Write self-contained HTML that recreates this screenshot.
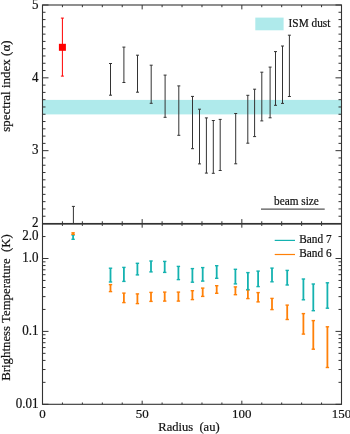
<!DOCTYPE html>
<html><head><meta charset="utf-8"><style>
html,body{margin:0;padding:0;background:#fff;overflow:hidden;}
svg{display:block;will-change:transform;}
text{font-family:"Liberation Serif",serif;fill:#111;stroke:#111;stroke-width:0.2px;}
</style></head><body>
<svg width="350" height="434" viewBox="0 0 350 434">
<rect x="42.50" y="99.90" width="299.00" height="14.50" fill="#afeaeb"/>
<rect x="255.30" y="17.60" width="28.30" height="12.70" fill="#afeaeb"/>
<line x1="110.50" y1="63.50" x2="110.50" y2="95.20" stroke="#333333" stroke-width="1.0" />
<line x1="109.00" y1="63.50" x2="112.00" y2="63.50" stroke="#333333" stroke-width="1.0" />
<line x1="109.00" y1="95.20" x2="112.00" y2="95.20" stroke="#333333" stroke-width="1.0" />
<line x1="123.90" y1="47.10" x2="123.90" y2="82.50" stroke="#333333" stroke-width="1.0" />
<line x1="122.40" y1="47.10" x2="125.40" y2="47.10" stroke="#333333" stroke-width="1.0" />
<line x1="122.40" y1="82.50" x2="125.40" y2="82.50" stroke="#333333" stroke-width="1.0" />
<line x1="137.50" y1="55.20" x2="137.50" y2="92.20" stroke="#333333" stroke-width="1.0" />
<line x1="136.00" y1="55.20" x2="139.00" y2="55.20" stroke="#333333" stroke-width="1.0" />
<line x1="136.00" y1="92.20" x2="139.00" y2="92.20" stroke="#333333" stroke-width="1.0" />
<line x1="151.20" y1="65.20" x2="151.20" y2="103.30" stroke="#333333" stroke-width="1.0" />
<line x1="149.70" y1="65.20" x2="152.70" y2="65.20" stroke="#333333" stroke-width="1.0" />
<line x1="149.70" y1="103.30" x2="152.70" y2="103.30" stroke="#333333" stroke-width="1.0" />
<line x1="165.10" y1="75.10" x2="165.10" y2="117.30" stroke="#333333" stroke-width="1.0" />
<line x1="163.60" y1="75.10" x2="166.60" y2="75.10" stroke="#333333" stroke-width="1.0" />
<line x1="163.60" y1="117.30" x2="166.60" y2="117.30" stroke="#333333" stroke-width="1.0" />
<line x1="178.80" y1="85.90" x2="178.80" y2="135.30" stroke="#333333" stroke-width="1.0" />
<line x1="177.30" y1="85.90" x2="180.30" y2="85.90" stroke="#333333" stroke-width="1.0" />
<line x1="177.30" y1="135.30" x2="180.30" y2="135.30" stroke="#333333" stroke-width="1.0" />
<line x1="192.50" y1="96.40" x2="192.50" y2="148.70" stroke="#333333" stroke-width="1.0" />
<line x1="191.00" y1="96.40" x2="194.00" y2="96.40" stroke="#333333" stroke-width="1.0" />
<line x1="191.00" y1="148.70" x2="194.00" y2="148.70" stroke="#333333" stroke-width="1.0" />
<line x1="199.50" y1="109.20" x2="199.50" y2="163.90" stroke="#333333" stroke-width="1.0" />
<line x1="198.00" y1="109.20" x2="201.00" y2="109.20" stroke="#333333" stroke-width="1.0" />
<line x1="198.00" y1="163.90" x2="201.00" y2="163.90" stroke="#333333" stroke-width="1.0" />
<line x1="206.40" y1="117.90" x2="206.40" y2="173.10" stroke="#333333" stroke-width="1.0" />
<line x1="204.90" y1="117.90" x2="207.90" y2="117.90" stroke="#333333" stroke-width="1.0" />
<line x1="204.90" y1="173.10" x2="207.90" y2="173.10" stroke="#333333" stroke-width="1.0" />
<line x1="213.30" y1="120.50" x2="213.30" y2="173.30" stroke="#333333" stroke-width="1.0" />
<line x1="211.80" y1="120.50" x2="214.80" y2="120.50" stroke="#333333" stroke-width="1.0" />
<line x1="211.80" y1="173.30" x2="214.80" y2="173.30" stroke="#333333" stroke-width="1.0" />
<line x1="220.20" y1="119.40" x2="220.20" y2="170.50" stroke="#333333" stroke-width="1.0" />
<line x1="218.70" y1="119.40" x2="221.70" y2="119.40" stroke="#333333" stroke-width="1.0" />
<line x1="218.70" y1="170.50" x2="221.70" y2="170.50" stroke="#333333" stroke-width="1.0" />
<line x1="235.70" y1="113.50" x2="235.70" y2="163.80" stroke="#333333" stroke-width="1.0" />
<line x1="234.20" y1="113.50" x2="237.20" y2="113.50" stroke="#333333" stroke-width="1.0" />
<line x1="234.20" y1="163.80" x2="237.20" y2="163.80" stroke="#333333" stroke-width="1.0" />
<line x1="247.80" y1="95.30" x2="247.80" y2="143.20" stroke="#333333" stroke-width="1.0" />
<line x1="246.30" y1="95.30" x2="249.30" y2="95.30" stroke="#333333" stroke-width="1.0" />
<line x1="246.30" y1="143.20" x2="249.30" y2="143.20" stroke="#333333" stroke-width="1.0" />
<line x1="254.60" y1="89.20" x2="254.60" y2="136.60" stroke="#333333" stroke-width="1.0" />
<line x1="253.10" y1="89.20" x2="256.10" y2="89.20" stroke="#333333" stroke-width="1.0" />
<line x1="253.10" y1="136.60" x2="256.10" y2="136.60" stroke="#333333" stroke-width="1.0" />
<line x1="261.80" y1="72.20" x2="261.80" y2="120.90" stroke="#333333" stroke-width="1.0" />
<line x1="260.30" y1="72.20" x2="263.30" y2="72.20" stroke="#333333" stroke-width="1.0" />
<line x1="260.30" y1="120.90" x2="263.30" y2="120.90" stroke="#333333" stroke-width="1.0" />
<line x1="270.10" y1="67.10" x2="270.10" y2="117.80" stroke="#333333" stroke-width="1.0" />
<line x1="268.60" y1="67.10" x2="271.60" y2="67.10" stroke="#333333" stroke-width="1.0" />
<line x1="268.60" y1="117.80" x2="271.60" y2="117.80" stroke="#333333" stroke-width="1.0" />
<line x1="275.50" y1="51.60" x2="275.50" y2="105.30" stroke="#333333" stroke-width="1.0" />
<line x1="274.00" y1="51.60" x2="277.00" y2="51.60" stroke="#333333" stroke-width="1.0" />
<line x1="274.00" y1="105.30" x2="277.00" y2="105.30" stroke="#333333" stroke-width="1.0" />
<line x1="282.50" y1="46.00" x2="282.50" y2="103.40" stroke="#333333" stroke-width="1.0" />
<line x1="281.00" y1="46.00" x2="284.00" y2="46.00" stroke="#333333" stroke-width="1.0" />
<line x1="281.00" y1="103.40" x2="284.00" y2="103.40" stroke="#333333" stroke-width="1.0" />
<line x1="289.40" y1="35.20" x2="289.40" y2="96.50" stroke="#333333" stroke-width="1.0" />
<line x1="287.90" y1="35.20" x2="290.90" y2="35.20" stroke="#333333" stroke-width="1.0" />
<line x1="287.90" y1="96.50" x2="290.90" y2="96.50" stroke="#333333" stroke-width="1.0" />
<line x1="73.40" y1="206.40" x2="73.40" y2="223.50" stroke="#333333" stroke-width="1.0" />
<line x1="71.90" y1="206.40" x2="74.90" y2="206.40" stroke="#333333" stroke-width="1.0" />
<line x1="62.40" y1="18.10" x2="62.40" y2="76.10" stroke="#ff0000" stroke-width="1.0" />
<line x1="60.90" y1="18.10" x2="63.90" y2="18.10" stroke="#ff0000" stroke-width="1.0" />
<line x1="60.90" y1="76.10" x2="63.90" y2="76.10" stroke="#ff0000" stroke-width="1.0" />
<rect x="58.90" y="43.80" width="7.00" height="7.00" fill="#ff0000"/>
<line x1="261.00" y1="209.10" x2="324.70" y2="209.10" stroke="#555" stroke-width="1.1" />
<text transform="translate(274.00,204.60) scale(1.0,1.18)" font-size="11.3" text-anchor="start" >beam size</text>
<text transform="translate(288.60,27.10) scale(1.0,1.18)" font-size="11.3" text-anchor="start" >ISM dust</text>
<line x1="110.50" y1="284.60" x2="110.50" y2="291.60" stroke="#ff8008" stroke-width="1.8" />
<line x1="108.80" y1="284.60" x2="112.20" y2="284.60" stroke="#ff8008" stroke-width="1.4" />
<line x1="108.80" y1="291.60" x2="112.20" y2="291.60" stroke="#ff8008" stroke-width="1.4" />
<line x1="110.50" y1="268.20" x2="110.50" y2="282.00" stroke="#14b2b0" stroke-width="1.8" />
<line x1="108.80" y1="268.20" x2="112.20" y2="268.20" stroke="#14b2b0" stroke-width="1.4" />
<line x1="108.80" y1="282.00" x2="112.20" y2="282.00" stroke="#14b2b0" stroke-width="1.4" />
<line x1="123.90" y1="293.10" x2="123.90" y2="302.60" stroke="#ff8008" stroke-width="1.8" />
<line x1="122.20" y1="293.10" x2="125.60" y2="293.10" stroke="#ff8008" stroke-width="1.4" />
<line x1="122.20" y1="302.60" x2="125.60" y2="302.60" stroke="#ff8008" stroke-width="1.4" />
<line x1="123.90" y1="267.40" x2="123.90" y2="281.40" stroke="#14b2b0" stroke-width="1.8" />
<line x1="122.20" y1="267.40" x2="125.60" y2="267.40" stroke="#14b2b0" stroke-width="1.4" />
<line x1="122.20" y1="281.40" x2="125.60" y2="281.40" stroke="#14b2b0" stroke-width="1.4" />
<line x1="137.40" y1="293.90" x2="137.40" y2="303.60" stroke="#ff8008" stroke-width="1.8" />
<line x1="135.70" y1="293.90" x2="139.10" y2="293.90" stroke="#ff8008" stroke-width="1.4" />
<line x1="135.70" y1="303.60" x2="139.10" y2="303.60" stroke="#ff8008" stroke-width="1.4" />
<line x1="137.40" y1="263.30" x2="137.40" y2="274.90" stroke="#14b2b0" stroke-width="1.8" />
<line x1="135.70" y1="263.30" x2="139.10" y2="263.30" stroke="#14b2b0" stroke-width="1.4" />
<line x1="135.70" y1="274.90" x2="139.10" y2="274.90" stroke="#14b2b0" stroke-width="1.4" />
<line x1="151.00" y1="292.40" x2="151.00" y2="301.40" stroke="#ff8008" stroke-width="1.8" />
<line x1="149.30" y1="292.40" x2="152.70" y2="292.40" stroke="#ff8008" stroke-width="1.4" />
<line x1="149.30" y1="301.40" x2="152.70" y2="301.40" stroke="#ff8008" stroke-width="1.4" />
<line x1="151.00" y1="261.00" x2="151.00" y2="271.90" stroke="#14b2b0" stroke-width="1.8" />
<line x1="149.30" y1="261.00" x2="152.70" y2="261.00" stroke="#14b2b0" stroke-width="1.4" />
<line x1="149.30" y1="271.90" x2="152.70" y2="271.90" stroke="#14b2b0" stroke-width="1.4" />
<line x1="164.70" y1="292.10" x2="164.70" y2="301.10" stroke="#ff8008" stroke-width="1.8" />
<line x1="163.00" y1="292.10" x2="166.40" y2="292.10" stroke="#ff8008" stroke-width="1.4" />
<line x1="163.00" y1="301.10" x2="166.40" y2="301.10" stroke="#ff8008" stroke-width="1.4" />
<line x1="164.70" y1="261.40" x2="164.70" y2="272.40" stroke="#14b2b0" stroke-width="1.8" />
<line x1="163.00" y1="261.40" x2="166.40" y2="261.40" stroke="#14b2b0" stroke-width="1.4" />
<line x1="163.00" y1="272.40" x2="166.40" y2="272.40" stroke="#14b2b0" stroke-width="1.4" />
<line x1="178.40" y1="292.10" x2="178.40" y2="301.10" stroke="#ff8008" stroke-width="1.8" />
<line x1="176.70" y1="292.10" x2="180.10" y2="292.10" stroke="#ff8008" stroke-width="1.4" />
<line x1="176.70" y1="301.10" x2="180.10" y2="301.10" stroke="#ff8008" stroke-width="1.4" />
<line x1="178.40" y1="266.40" x2="178.40" y2="279.60" stroke="#14b2b0" stroke-width="1.8" />
<line x1="176.70" y1="266.40" x2="180.10" y2="266.40" stroke="#14b2b0" stroke-width="1.4" />
<line x1="176.70" y1="279.60" x2="180.10" y2="279.60" stroke="#14b2b0" stroke-width="1.4" />
<line x1="192.40" y1="290.70" x2="192.40" y2="299.60" stroke="#ff8008" stroke-width="1.8" />
<line x1="190.70" y1="290.70" x2="194.10" y2="290.70" stroke="#ff8008" stroke-width="1.4" />
<line x1="190.70" y1="299.60" x2="194.10" y2="299.60" stroke="#ff8008" stroke-width="1.4" />
<line x1="192.40" y1="268.60" x2="192.40" y2="282.20" stroke="#14b2b0" stroke-width="1.8" />
<line x1="190.70" y1="268.60" x2="194.10" y2="268.60" stroke="#14b2b0" stroke-width="1.4" />
<line x1="190.70" y1="282.20" x2="194.10" y2="282.20" stroke="#14b2b0" stroke-width="1.4" />
<line x1="202.70" y1="288.10" x2="202.70" y2="296.40" stroke="#ff8008" stroke-width="1.8" />
<line x1="201.00" y1="288.10" x2="204.40" y2="288.10" stroke="#ff8008" stroke-width="1.4" />
<line x1="201.00" y1="296.40" x2="204.40" y2="296.40" stroke="#ff8008" stroke-width="1.4" />
<line x1="202.70" y1="267.60" x2="202.70" y2="281.10" stroke="#14b2b0" stroke-width="1.8" />
<line x1="201.00" y1="267.60" x2="204.40" y2="267.60" stroke="#14b2b0" stroke-width="1.4" />
<line x1="201.00" y1="281.10" x2="204.40" y2="281.10" stroke="#14b2b0" stroke-width="1.4" />
<line x1="216.70" y1="285.70" x2="216.70" y2="293.30" stroke="#ff8008" stroke-width="1.8" />
<line x1="215.00" y1="285.70" x2="218.40" y2="285.70" stroke="#ff8008" stroke-width="1.4" />
<line x1="215.00" y1="293.30" x2="218.40" y2="293.30" stroke="#ff8008" stroke-width="1.4" />
<line x1="216.70" y1="265.70" x2="216.70" y2="278.30" stroke="#14b2b0" stroke-width="1.8" />
<line x1="215.00" y1="265.70" x2="218.40" y2="265.70" stroke="#14b2b0" stroke-width="1.4" />
<line x1="215.00" y1="278.30" x2="218.40" y2="278.30" stroke="#14b2b0" stroke-width="1.4" />
<line x1="235.40" y1="286.90" x2="235.40" y2="294.70" stroke="#ff8008" stroke-width="1.8" />
<line x1="233.70" y1="286.90" x2="237.10" y2="286.90" stroke="#ff8008" stroke-width="1.4" />
<line x1="233.70" y1="294.70" x2="237.10" y2="294.70" stroke="#ff8008" stroke-width="1.4" />
<line x1="235.40" y1="269.30" x2="235.40" y2="283.90" stroke="#14b2b0" stroke-width="1.8" />
<line x1="233.70" y1="269.30" x2="237.10" y2="269.30" stroke="#14b2b0" stroke-width="1.4" />
<line x1="233.70" y1="283.90" x2="237.10" y2="283.90" stroke="#14b2b0" stroke-width="1.4" />
<line x1="247.90" y1="290.00" x2="247.90" y2="298.60" stroke="#ff8008" stroke-width="1.8" />
<line x1="246.20" y1="290.00" x2="249.60" y2="290.00" stroke="#ff8008" stroke-width="1.4" />
<line x1="246.20" y1="298.60" x2="249.60" y2="298.60" stroke="#ff8008" stroke-width="1.4" />
<line x1="247.90" y1="272.60" x2="247.90" y2="289.60" stroke="#14b2b0" stroke-width="1.8" />
<line x1="246.20" y1="272.60" x2="249.60" y2="272.60" stroke="#14b2b0" stroke-width="1.4" />
<line x1="246.20" y1="289.60" x2="249.60" y2="289.60" stroke="#14b2b0" stroke-width="1.4" />
<line x1="258.10" y1="292.60" x2="258.10" y2="301.90" stroke="#ff8008" stroke-width="1.8" />
<line x1="256.40" y1="292.60" x2="259.80" y2="292.60" stroke="#ff8008" stroke-width="1.4" />
<line x1="256.40" y1="301.90" x2="259.80" y2="301.90" stroke="#ff8008" stroke-width="1.4" />
<line x1="258.10" y1="271.10" x2="258.10" y2="286.60" stroke="#14b2b0" stroke-width="1.8" />
<line x1="256.40" y1="271.10" x2="259.80" y2="271.10" stroke="#14b2b0" stroke-width="1.4" />
<line x1="256.40" y1="286.60" x2="259.80" y2="286.60" stroke="#14b2b0" stroke-width="1.4" />
<line x1="272.00" y1="298.40" x2="272.00" y2="309.60" stroke="#ff8008" stroke-width="1.8" />
<line x1="270.30" y1="298.40" x2="273.70" y2="298.40" stroke="#ff8008" stroke-width="1.4" />
<line x1="270.30" y1="309.60" x2="273.70" y2="309.60" stroke="#ff8008" stroke-width="1.4" />
<line x1="272.00" y1="268.10" x2="272.00" y2="281.80" stroke="#14b2b0" stroke-width="1.8" />
<line x1="270.30" y1="268.10" x2="273.70" y2="268.10" stroke="#14b2b0" stroke-width="1.4" />
<line x1="270.30" y1="281.80" x2="273.70" y2="281.80" stroke="#14b2b0" stroke-width="1.4" />
<line x1="287.20" y1="305.10" x2="287.20" y2="319.50" stroke="#ff8008" stroke-width="1.8" />
<line x1="285.50" y1="305.10" x2="288.90" y2="305.10" stroke="#ff8008" stroke-width="1.4" />
<line x1="285.50" y1="319.50" x2="288.90" y2="319.50" stroke="#ff8008" stroke-width="1.4" />
<line x1="287.20" y1="270.40" x2="287.20" y2="285.00" stroke="#14b2b0" stroke-width="1.8" />
<line x1="285.50" y1="270.40" x2="288.90" y2="270.40" stroke="#14b2b0" stroke-width="1.4" />
<line x1="285.50" y1="285.00" x2="288.90" y2="285.00" stroke="#14b2b0" stroke-width="1.4" />
<line x1="303.40" y1="313.60" x2="303.40" y2="334.10" stroke="#ff8008" stroke-width="1.8" />
<line x1="301.70" y1="313.60" x2="305.10" y2="313.60" stroke="#ff8008" stroke-width="1.4" />
<line x1="301.70" y1="334.10" x2="305.10" y2="334.10" stroke="#ff8008" stroke-width="1.4" />
<line x1="303.40" y1="279.00" x2="303.40" y2="299.80" stroke="#14b2b0" stroke-width="1.8" />
<line x1="301.70" y1="279.00" x2="305.10" y2="279.00" stroke="#14b2b0" stroke-width="1.4" />
<line x1="301.70" y1="299.80" x2="305.10" y2="299.80" stroke="#14b2b0" stroke-width="1.4" />
<line x1="313.30" y1="320.60" x2="313.30" y2="349.20" stroke="#ff8008" stroke-width="1.8" />
<line x1="311.60" y1="320.60" x2="315.00" y2="320.60" stroke="#ff8008" stroke-width="1.4" />
<line x1="311.60" y1="349.20" x2="315.00" y2="349.20" stroke="#ff8008" stroke-width="1.4" />
<line x1="313.30" y1="284.00" x2="313.30" y2="310.70" stroke="#14b2b0" stroke-width="1.8" />
<line x1="311.60" y1="284.00" x2="315.00" y2="284.00" stroke="#14b2b0" stroke-width="1.4" />
<line x1="311.60" y1="310.70" x2="315.00" y2="310.70" stroke="#14b2b0" stroke-width="1.4" />
<line x1="327.40" y1="326.80" x2="327.40" y2="367.50" stroke="#ff8008" stroke-width="1.8" />
<line x1="325.70" y1="326.80" x2="329.10" y2="326.80" stroke="#ff8008" stroke-width="1.4" />
<line x1="325.70" y1="367.50" x2="329.10" y2="367.50" stroke="#ff8008" stroke-width="1.4" />
<line x1="327.40" y1="282.80" x2="327.40" y2="308.20" stroke="#14b2b0" stroke-width="1.8" />
<line x1="325.70" y1="282.80" x2="329.10" y2="282.80" stroke="#14b2b0" stroke-width="1.4" />
<line x1="325.70" y1="308.20" x2="329.10" y2="308.20" stroke="#14b2b0" stroke-width="1.4" />
<line x1="73.10" y1="235.00" x2="73.10" y2="239.30" stroke="#14b2b0" stroke-width="1.8" />
<line x1="71.40" y1="235.00" x2="74.80" y2="235.00" stroke="#14b2b0" stroke-width="1.4" />
<line x1="71.40" y1="239.30" x2="74.80" y2="239.30" stroke="#14b2b0" stroke-width="1.4" />
<line x1="73.10" y1="232.80" x2="73.10" y2="234.30" stroke="#ff8008" stroke-width="1.8" />
<line x1="71.40" y1="232.80" x2="74.80" y2="232.80" stroke="#ff8008" stroke-width="1.4" />
<line x1="71.40" y1="234.30" x2="74.80" y2="234.30" stroke="#ff8008" stroke-width="1.4" />
<line x1="274.70" y1="240.40" x2="295.00" y2="240.40" stroke="#14b2b0" stroke-width="1.2" />
<line x1="274.70" y1="254.50" x2="295.00" y2="254.50" stroke="#ff8008" stroke-width="1.2" />
<text transform="translate(299.30,242.50) scale(1.0,1.18)" font-size="11.3" text-anchor="start" >Band 7</text>
<text transform="translate(299.30,257.10) scale(1.0,1.18)" font-size="11.3" text-anchor="start" >Band 6</text>
<rect x="42.5" y="5.0" width="299.0" height="218.5" fill="none" stroke="#333333" stroke-width="1.1"/>
<rect x="42.5" y="224.1" width="299.0" height="180.20000000000002" fill="none" stroke="#333333" stroke-width="1.1"/>
<line x1="42.50" y1="5.00" x2="42.50" y2="9.40" stroke="#333333" stroke-width="1.0" />
<line x1="42.50" y1="223.50" x2="42.50" y2="219.10" stroke="#333333" stroke-width="1.0" />
<line x1="42.50" y1="224.10" x2="42.50" y2="227.70" stroke="#333333" stroke-width="1.0" />
<line x1="42.50" y1="404.30" x2="42.50" y2="400.70" stroke="#333333" stroke-width="1.0" />
<line x1="62.43" y1="5.00" x2="62.43" y2="7.20" stroke="#333333" stroke-width="1.0" />
<line x1="62.43" y1="223.50" x2="62.43" y2="221.30" stroke="#333333" stroke-width="1.0" />
<line x1="62.43" y1="224.10" x2="62.43" y2="225.90" stroke="#333333" stroke-width="1.0" />
<line x1="62.43" y1="404.30" x2="62.43" y2="402.50" stroke="#333333" stroke-width="1.0" />
<line x1="82.37" y1="5.00" x2="82.37" y2="7.20" stroke="#333333" stroke-width="1.0" />
<line x1="82.37" y1="223.50" x2="82.37" y2="221.30" stroke="#333333" stroke-width="1.0" />
<line x1="82.37" y1="224.10" x2="82.37" y2="225.90" stroke="#333333" stroke-width="1.0" />
<line x1="82.37" y1="404.30" x2="82.37" y2="402.50" stroke="#333333" stroke-width="1.0" />
<line x1="102.30" y1="5.00" x2="102.30" y2="7.20" stroke="#333333" stroke-width="1.0" />
<line x1="102.30" y1="223.50" x2="102.30" y2="221.30" stroke="#333333" stroke-width="1.0" />
<line x1="102.30" y1="224.10" x2="102.30" y2="225.90" stroke="#333333" stroke-width="1.0" />
<line x1="102.30" y1="404.30" x2="102.30" y2="402.50" stroke="#333333" stroke-width="1.0" />
<line x1="122.23" y1="5.00" x2="122.23" y2="7.20" stroke="#333333" stroke-width="1.0" />
<line x1="122.23" y1="223.50" x2="122.23" y2="221.30" stroke="#333333" stroke-width="1.0" />
<line x1="122.23" y1="224.10" x2="122.23" y2="225.90" stroke="#333333" stroke-width="1.0" />
<line x1="122.23" y1="404.30" x2="122.23" y2="402.50" stroke="#333333" stroke-width="1.0" />
<line x1="142.17" y1="5.00" x2="142.17" y2="9.40" stroke="#333333" stroke-width="1.0" />
<line x1="142.17" y1="223.50" x2="142.17" y2="219.10" stroke="#333333" stroke-width="1.0" />
<line x1="142.17" y1="224.10" x2="142.17" y2="227.70" stroke="#333333" stroke-width="1.0" />
<line x1="142.17" y1="404.30" x2="142.17" y2="400.70" stroke="#333333" stroke-width="1.0" />
<line x1="162.10" y1="5.00" x2="162.10" y2="7.20" stroke="#333333" stroke-width="1.0" />
<line x1="162.10" y1="223.50" x2="162.10" y2="221.30" stroke="#333333" stroke-width="1.0" />
<line x1="162.10" y1="224.10" x2="162.10" y2="225.90" stroke="#333333" stroke-width="1.0" />
<line x1="162.10" y1="404.30" x2="162.10" y2="402.50" stroke="#333333" stroke-width="1.0" />
<line x1="182.03" y1="5.00" x2="182.03" y2="7.20" stroke="#333333" stroke-width="1.0" />
<line x1="182.03" y1="223.50" x2="182.03" y2="221.30" stroke="#333333" stroke-width="1.0" />
<line x1="182.03" y1="224.10" x2="182.03" y2="225.90" stroke="#333333" stroke-width="1.0" />
<line x1="182.03" y1="404.30" x2="182.03" y2="402.50" stroke="#333333" stroke-width="1.0" />
<line x1="201.97" y1="5.00" x2="201.97" y2="7.20" stroke="#333333" stroke-width="1.0" />
<line x1="201.97" y1="223.50" x2="201.97" y2="221.30" stroke="#333333" stroke-width="1.0" />
<line x1="201.97" y1="224.10" x2="201.97" y2="225.90" stroke="#333333" stroke-width="1.0" />
<line x1="201.97" y1="404.30" x2="201.97" y2="402.50" stroke="#333333" stroke-width="1.0" />
<line x1="221.90" y1="5.00" x2="221.90" y2="7.20" stroke="#333333" stroke-width="1.0" />
<line x1="221.90" y1="223.50" x2="221.90" y2="221.30" stroke="#333333" stroke-width="1.0" />
<line x1="221.90" y1="224.10" x2="221.90" y2="225.90" stroke="#333333" stroke-width="1.0" />
<line x1="221.90" y1="404.30" x2="221.90" y2="402.50" stroke="#333333" stroke-width="1.0" />
<line x1="241.83" y1="5.00" x2="241.83" y2="9.40" stroke="#333333" stroke-width="1.0" />
<line x1="241.83" y1="223.50" x2="241.83" y2="219.10" stroke="#333333" stroke-width="1.0" />
<line x1="241.83" y1="224.10" x2="241.83" y2="227.70" stroke="#333333" stroke-width="1.0" />
<line x1="241.83" y1="404.30" x2="241.83" y2="400.70" stroke="#333333" stroke-width="1.0" />
<line x1="261.77" y1="5.00" x2="261.77" y2="7.20" stroke="#333333" stroke-width="1.0" />
<line x1="261.77" y1="223.50" x2="261.77" y2="221.30" stroke="#333333" stroke-width="1.0" />
<line x1="261.77" y1="224.10" x2="261.77" y2="225.90" stroke="#333333" stroke-width="1.0" />
<line x1="261.77" y1="404.30" x2="261.77" y2="402.50" stroke="#333333" stroke-width="1.0" />
<line x1="281.70" y1="5.00" x2="281.70" y2="7.20" stroke="#333333" stroke-width="1.0" />
<line x1="281.70" y1="223.50" x2="281.70" y2="221.30" stroke="#333333" stroke-width="1.0" />
<line x1="281.70" y1="224.10" x2="281.70" y2="225.90" stroke="#333333" stroke-width="1.0" />
<line x1="281.70" y1="404.30" x2="281.70" y2="402.50" stroke="#333333" stroke-width="1.0" />
<line x1="301.63" y1="5.00" x2="301.63" y2="7.20" stroke="#333333" stroke-width="1.0" />
<line x1="301.63" y1="223.50" x2="301.63" y2="221.30" stroke="#333333" stroke-width="1.0" />
<line x1="301.63" y1="224.10" x2="301.63" y2="225.90" stroke="#333333" stroke-width="1.0" />
<line x1="301.63" y1="404.30" x2="301.63" y2="402.50" stroke="#333333" stroke-width="1.0" />
<line x1="321.57" y1="5.00" x2="321.57" y2="7.20" stroke="#333333" stroke-width="1.0" />
<line x1="321.57" y1="223.50" x2="321.57" y2="221.30" stroke="#333333" stroke-width="1.0" />
<line x1="321.57" y1="224.10" x2="321.57" y2="225.90" stroke="#333333" stroke-width="1.0" />
<line x1="321.57" y1="404.30" x2="321.57" y2="402.50" stroke="#333333" stroke-width="1.0" />
<line x1="341.50" y1="5.00" x2="341.50" y2="9.40" stroke="#333333" stroke-width="1.0" />
<line x1="341.50" y1="223.50" x2="341.50" y2="219.10" stroke="#333333" stroke-width="1.0" />
<line x1="341.50" y1="224.10" x2="341.50" y2="227.70" stroke="#333333" stroke-width="1.0" />
<line x1="341.50" y1="404.30" x2="341.50" y2="400.70" stroke="#333333" stroke-width="1.0" />
<line x1="42.50" y1="223.50" x2="48.50" y2="223.50" stroke="#333333" stroke-width="1.0" />
<line x1="341.50" y1="223.50" x2="335.50" y2="223.50" stroke="#333333" stroke-width="1.0" />
<line x1="42.50" y1="216.22" x2="45.50" y2="216.22" stroke="#333333" stroke-width="1.0" />
<line x1="341.50" y1="216.22" x2="338.50" y2="216.22" stroke="#333333" stroke-width="1.0" />
<line x1="42.50" y1="208.93" x2="45.50" y2="208.93" stroke="#333333" stroke-width="1.0" />
<line x1="341.50" y1="208.93" x2="338.50" y2="208.93" stroke="#333333" stroke-width="1.0" />
<line x1="42.50" y1="201.65" x2="45.50" y2="201.65" stroke="#333333" stroke-width="1.0" />
<line x1="341.50" y1="201.65" x2="338.50" y2="201.65" stroke="#333333" stroke-width="1.0" />
<line x1="42.50" y1="194.37" x2="45.50" y2="194.37" stroke="#333333" stroke-width="1.0" />
<line x1="341.50" y1="194.37" x2="338.50" y2="194.37" stroke="#333333" stroke-width="1.0" />
<line x1="42.50" y1="187.08" x2="45.50" y2="187.08" stroke="#333333" stroke-width="1.0" />
<line x1="341.50" y1="187.08" x2="338.50" y2="187.08" stroke="#333333" stroke-width="1.0" />
<line x1="42.50" y1="179.80" x2="45.50" y2="179.80" stroke="#333333" stroke-width="1.0" />
<line x1="341.50" y1="179.80" x2="338.50" y2="179.80" stroke="#333333" stroke-width="1.0" />
<line x1="42.50" y1="172.52" x2="45.50" y2="172.52" stroke="#333333" stroke-width="1.0" />
<line x1="341.50" y1="172.52" x2="338.50" y2="172.52" stroke="#333333" stroke-width="1.0" />
<line x1="42.50" y1="165.23" x2="45.50" y2="165.23" stroke="#333333" stroke-width="1.0" />
<line x1="341.50" y1="165.23" x2="338.50" y2="165.23" stroke="#333333" stroke-width="1.0" />
<line x1="42.50" y1="157.95" x2="45.50" y2="157.95" stroke="#333333" stroke-width="1.0" />
<line x1="341.50" y1="157.95" x2="338.50" y2="157.95" stroke="#333333" stroke-width="1.0" />
<line x1="42.50" y1="150.67" x2="48.50" y2="150.67" stroke="#333333" stroke-width="1.0" />
<line x1="341.50" y1="150.67" x2="335.50" y2="150.67" stroke="#333333" stroke-width="1.0" />
<line x1="42.50" y1="143.38" x2="45.50" y2="143.38" stroke="#333333" stroke-width="1.0" />
<line x1="341.50" y1="143.38" x2="338.50" y2="143.38" stroke="#333333" stroke-width="1.0" />
<line x1="42.50" y1="136.10" x2="45.50" y2="136.10" stroke="#333333" stroke-width="1.0" />
<line x1="341.50" y1="136.10" x2="338.50" y2="136.10" stroke="#333333" stroke-width="1.0" />
<line x1="42.50" y1="128.82" x2="45.50" y2="128.82" stroke="#333333" stroke-width="1.0" />
<line x1="341.50" y1="128.82" x2="338.50" y2="128.82" stroke="#333333" stroke-width="1.0" />
<line x1="42.50" y1="121.53" x2="45.50" y2="121.53" stroke="#333333" stroke-width="1.0" />
<line x1="341.50" y1="121.53" x2="338.50" y2="121.53" stroke="#333333" stroke-width="1.0" />
<line x1="42.50" y1="114.25" x2="45.50" y2="114.25" stroke="#333333" stroke-width="1.0" />
<line x1="341.50" y1="114.25" x2="338.50" y2="114.25" stroke="#333333" stroke-width="1.0" />
<line x1="42.50" y1="106.97" x2="45.50" y2="106.97" stroke="#333333" stroke-width="1.0" />
<line x1="341.50" y1="106.97" x2="338.50" y2="106.97" stroke="#333333" stroke-width="1.0" />
<line x1="42.50" y1="99.68" x2="45.50" y2="99.68" stroke="#333333" stroke-width="1.0" />
<line x1="341.50" y1="99.68" x2="338.50" y2="99.68" stroke="#333333" stroke-width="1.0" />
<line x1="42.50" y1="92.40" x2="45.50" y2="92.40" stroke="#333333" stroke-width="1.0" />
<line x1="341.50" y1="92.40" x2="338.50" y2="92.40" stroke="#333333" stroke-width="1.0" />
<line x1="42.50" y1="85.12" x2="45.50" y2="85.12" stroke="#333333" stroke-width="1.0" />
<line x1="341.50" y1="85.12" x2="338.50" y2="85.12" stroke="#333333" stroke-width="1.0" />
<line x1="42.50" y1="77.83" x2="48.50" y2="77.83" stroke="#333333" stroke-width="1.0" />
<line x1="341.50" y1="77.83" x2="335.50" y2="77.83" stroke="#333333" stroke-width="1.0" />
<line x1="42.50" y1="70.55" x2="45.50" y2="70.55" stroke="#333333" stroke-width="1.0" />
<line x1="341.50" y1="70.55" x2="338.50" y2="70.55" stroke="#333333" stroke-width="1.0" />
<line x1="42.50" y1="63.27" x2="45.50" y2="63.27" stroke="#333333" stroke-width="1.0" />
<line x1="341.50" y1="63.27" x2="338.50" y2="63.27" stroke="#333333" stroke-width="1.0" />
<line x1="42.50" y1="55.98" x2="45.50" y2="55.98" stroke="#333333" stroke-width="1.0" />
<line x1="341.50" y1="55.98" x2="338.50" y2="55.98" stroke="#333333" stroke-width="1.0" />
<line x1="42.50" y1="48.70" x2="45.50" y2="48.70" stroke="#333333" stroke-width="1.0" />
<line x1="341.50" y1="48.70" x2="338.50" y2="48.70" stroke="#333333" stroke-width="1.0" />
<line x1="42.50" y1="41.42" x2="45.50" y2="41.42" stroke="#333333" stroke-width="1.0" />
<line x1="341.50" y1="41.42" x2="338.50" y2="41.42" stroke="#333333" stroke-width="1.0" />
<line x1="42.50" y1="34.13" x2="45.50" y2="34.13" stroke="#333333" stroke-width="1.0" />
<line x1="341.50" y1="34.13" x2="338.50" y2="34.13" stroke="#333333" stroke-width="1.0" />
<line x1="42.50" y1="26.85" x2="45.50" y2="26.85" stroke="#333333" stroke-width="1.0" />
<line x1="341.50" y1="26.85" x2="338.50" y2="26.85" stroke="#333333" stroke-width="1.0" />
<line x1="42.50" y1="19.57" x2="45.50" y2="19.57" stroke="#333333" stroke-width="1.0" />
<line x1="341.50" y1="19.57" x2="338.50" y2="19.57" stroke="#333333" stroke-width="1.0" />
<line x1="42.50" y1="12.28" x2="45.50" y2="12.28" stroke="#333333" stroke-width="1.0" />
<line x1="341.50" y1="12.28" x2="338.50" y2="12.28" stroke="#333333" stroke-width="1.0" />
<line x1="42.50" y1="5.00" x2="48.50" y2="5.00" stroke="#333333" stroke-width="1.0" />
<line x1="341.50" y1="5.00" x2="335.50" y2="5.00" stroke="#333333" stroke-width="1.0" />
<line x1="42.50" y1="404.30" x2="48.50" y2="404.30" stroke="#333333" stroke-width="1.0" />
<line x1="341.50" y1="404.30" x2="335.50" y2="404.30" stroke="#333333" stroke-width="1.0" />
<line x1="42.50" y1="382.35" x2="45.50" y2="382.35" stroke="#333333" stroke-width="1.0" />
<line x1="341.50" y1="382.35" x2="338.50" y2="382.35" stroke="#333333" stroke-width="1.0" />
<line x1="42.50" y1="369.52" x2="45.50" y2="369.52" stroke="#333333" stroke-width="1.0" />
<line x1="341.50" y1="369.52" x2="338.50" y2="369.52" stroke="#333333" stroke-width="1.0" />
<line x1="42.50" y1="360.41" x2="45.50" y2="360.41" stroke="#333333" stroke-width="1.0" />
<line x1="341.50" y1="360.41" x2="338.50" y2="360.41" stroke="#333333" stroke-width="1.0" />
<line x1="42.50" y1="353.35" x2="45.50" y2="353.35" stroke="#333333" stroke-width="1.0" />
<line x1="341.50" y1="353.35" x2="338.50" y2="353.35" stroke="#333333" stroke-width="1.0" />
<line x1="42.50" y1="347.57" x2="45.50" y2="347.57" stroke="#333333" stroke-width="1.0" />
<line x1="341.50" y1="347.57" x2="338.50" y2="347.57" stroke="#333333" stroke-width="1.0" />
<line x1="42.50" y1="342.69" x2="45.50" y2="342.69" stroke="#333333" stroke-width="1.0" />
<line x1="341.50" y1="342.69" x2="338.50" y2="342.69" stroke="#333333" stroke-width="1.0" />
<line x1="42.50" y1="338.46" x2="45.50" y2="338.46" stroke="#333333" stroke-width="1.0" />
<line x1="341.50" y1="338.46" x2="338.50" y2="338.46" stroke="#333333" stroke-width="1.0" />
<line x1="42.50" y1="334.74" x2="45.50" y2="334.74" stroke="#333333" stroke-width="1.0" />
<line x1="341.50" y1="334.74" x2="338.50" y2="334.74" stroke="#333333" stroke-width="1.0" />
<line x1="42.50" y1="331.40" x2="48.50" y2="331.40" stroke="#333333" stroke-width="1.0" />
<line x1="341.50" y1="331.40" x2="335.50" y2="331.40" stroke="#333333" stroke-width="1.0" />
<line x1="42.50" y1="309.45" x2="45.50" y2="309.45" stroke="#333333" stroke-width="1.0" />
<line x1="341.50" y1="309.45" x2="338.50" y2="309.45" stroke="#333333" stroke-width="1.0" />
<line x1="42.50" y1="296.62" x2="45.50" y2="296.62" stroke="#333333" stroke-width="1.0" />
<line x1="341.50" y1="296.62" x2="338.50" y2="296.62" stroke="#333333" stroke-width="1.0" />
<line x1="42.50" y1="287.51" x2="45.50" y2="287.51" stroke="#333333" stroke-width="1.0" />
<line x1="341.50" y1="287.51" x2="338.50" y2="287.51" stroke="#333333" stroke-width="1.0" />
<line x1="42.50" y1="280.45" x2="45.50" y2="280.45" stroke="#333333" stroke-width="1.0" />
<line x1="341.50" y1="280.45" x2="338.50" y2="280.45" stroke="#333333" stroke-width="1.0" />
<line x1="42.50" y1="274.67" x2="45.50" y2="274.67" stroke="#333333" stroke-width="1.0" />
<line x1="341.50" y1="274.67" x2="338.50" y2="274.67" stroke="#333333" stroke-width="1.0" />
<line x1="42.50" y1="269.79" x2="45.50" y2="269.79" stroke="#333333" stroke-width="1.0" />
<line x1="341.50" y1="269.79" x2="338.50" y2="269.79" stroke="#333333" stroke-width="1.0" />
<line x1="42.50" y1="265.56" x2="45.50" y2="265.56" stroke="#333333" stroke-width="1.0" />
<line x1="341.50" y1="265.56" x2="338.50" y2="265.56" stroke="#333333" stroke-width="1.0" />
<line x1="42.50" y1="261.84" x2="45.50" y2="261.84" stroke="#333333" stroke-width="1.0" />
<line x1="341.50" y1="261.84" x2="338.50" y2="261.84" stroke="#333333" stroke-width="1.0" />
<line x1="42.50" y1="258.50" x2="48.50" y2="258.50" stroke="#333333" stroke-width="1.0" />
<line x1="341.50" y1="258.50" x2="335.50" y2="258.50" stroke="#333333" stroke-width="1.0" />
<line x1="42.50" y1="236.55" x2="45.50" y2="236.55" stroke="#333333" stroke-width="1.0" />
<line x1="341.50" y1="236.55" x2="338.50" y2="236.55" stroke="#333333" stroke-width="1.0" />
<text transform="translate(38.60,8.80) scale(1.0,1.04)" font-size="13" text-anchor="end" >5</text>
<text transform="translate(38.60,81.63) scale(1.0,1.04)" font-size="13" text-anchor="end" >4</text>
<text transform="translate(38.60,154.47) scale(1.0,1.04)" font-size="13" text-anchor="end" >3</text>
<text transform="translate(38.60,227.30) scale(1.0,1.04)" font-size="13" text-anchor="end" >2</text>
<text transform="translate(38.60,240.35) scale(1.0,1.04)" font-size="13" text-anchor="end" >2.0</text>
<text transform="translate(38.60,262.30) scale(1.0,1.04)" font-size="13" text-anchor="end" >1.0</text>
<text transform="translate(38.60,335.20) scale(1.0,1.04)" font-size="13" text-anchor="end" >0.1</text>
<text transform="translate(38.60,408.10) scale(1.0,1.04)" font-size="13" text-anchor="end" >0.01</text>
<text transform="translate(42.50,417.80) scale(1.0,0.97)" font-size="13" text-anchor="middle" >0</text>
<text transform="translate(142.17,417.80) scale(1.0,0.97)" font-size="13" text-anchor="middle" >50</text>
<text transform="translate(241.83,417.80) scale(1.0,0.97)" font-size="13" text-anchor="middle" >100</text>
<text transform="translate(341.50,417.80) scale(1.0,0.97)" font-size="13" text-anchor="middle" >150</text>
<text transform="translate(189.00,430.90) scale(0.98,1.02)" font-size="12.8" text-anchor="middle" >Radius&#160; (au)</text>
<text transform="translate(9.70,86.10) rotate(-90) scale(1.0,1.0)" font-size="13" text-anchor="middle" >spectral index (α)</text>
<text transform="translate(9.90,307.50) rotate(-90) scale(1.0,1.0)" font-size="12.82" text-anchor="middle" >Brightness Temperature&#160; (K)</text>
</svg>
</body></html>
